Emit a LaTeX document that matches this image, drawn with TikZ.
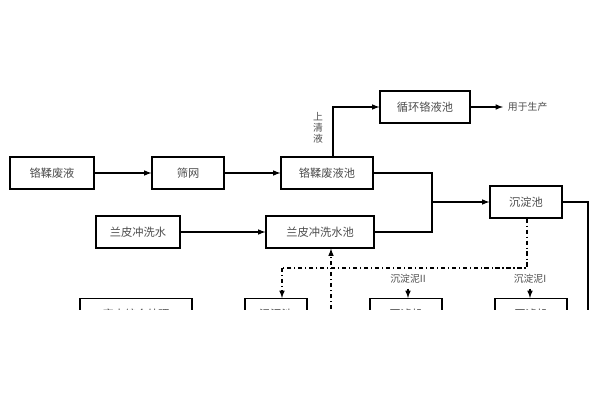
\documentclass[tikz,border=0pt]{standalone}
\usepackage{fontspec}
\newfontfamily\cjk{Noto Sans CJK SC}
\usetikzlibrary{positioning}
\tikzset{
  proc/.style={draw, thick, minimum height=0.8cm, inner sep=1pt, font=\cjk\footnotesize, text=black!70},
  flow/.style={thick, -latex},
  mud/.style={thick, dash dot, -latex},
  note/.style={font=\cjk\scriptsize, text=black!70}
}
\begin{document}
\begin{tikzpicture}[x=0.025cm, y=-0.025cm]
    \useasboundingbox (0,0) rectangle (600,400);
    \begin{scope}
    \clip (0,0) rectangle (600,310);
    % 上排
    \node[proc, minimum width=2.1cm] (chromeliq) at (52,173) {铬鞣废液};
    \node[proc, minimum width=1.8cm] (sieve) at (188,173) {筛网};
    \node[proc, minimum width=2.3cm] (chromepool) at (327,173) {铬鞣废液池};
    \node[proc, minimum width=2.25cm] (cycle) at (425,107) {循环铬液池};
    \node[note, anchor=west] (use) at (503,107) {用于生产};
    \node[proc, minimum width=1.8cm] (settle) at (526,202) {沉淀池};
    % 下排
    \node[proc, minimum width=2.1cm] (rinse) at (138,232) {兰皮冲洗水};
    \node[proc, minimum width=2.7cm] (rinsepool) at (320,232) {兰皮冲洗水池};
    \coordinate (merge) at (432,202);
    \coordinate (right) at (588,202);

    \draw[flow] (chromeliq) -- (sieve);
    \draw[flow] (sieve) -- (chromepool);
    \draw[flow] (chromepool.north -| 333,0) |- (cycle.west);
    \node[note, align=center, inner sep=0pt] (clear) at (318,128) {上\\清\\液};
    \draw[flow] (cycle) -- (use);
    \draw[flow] (rinse) -- (rinsepool);
    \draw[thick] (chromepool.east) -| (merge) |- (rinsepool.east);
    \draw[flow] (merge) -- (settle);
    \draw[thick] (settle.east) -| (right) -- (588,320);

    % 污泥
    \coordinate (d0) at (527,268);
    \coordinate (d1) at (282,268);
    \draw[thick, dash dot] (settle.south -| d0) -- (d0) -- (d1);
    \node[proc, minimum width=2.8cm, anchor=north] (b1) at (136,298) {废水综合处理};
    \node[proc, minimum width=1.55cm, anchor=north] (b2) at (276,298) {污泥池};
    \node[proc, minimum width=1.8cm, anchor=north] (b3) at (406,298) {压滤机};
    \node[proc, minimum width=1.8cm, anchor=north] (b4) at (531,298) {压滤机};
    \draw[mud] (d1) -- (b2.north -| d1);
    \node[note] (mud2) at (408,279) {沉淀泥II};
    \node[note] (mud1) at (530,279) {沉淀泥I};
    \draw[mud] (mud2) -- (b3.north -| mud2);
    \draw[mud] (mud1) -- (b4.north -| mud1);
    \draw[mud] (331,320) -- (rinsepool.south -| 331,0);
    \end{scope}
\end{tikzpicture}
\end{document}
